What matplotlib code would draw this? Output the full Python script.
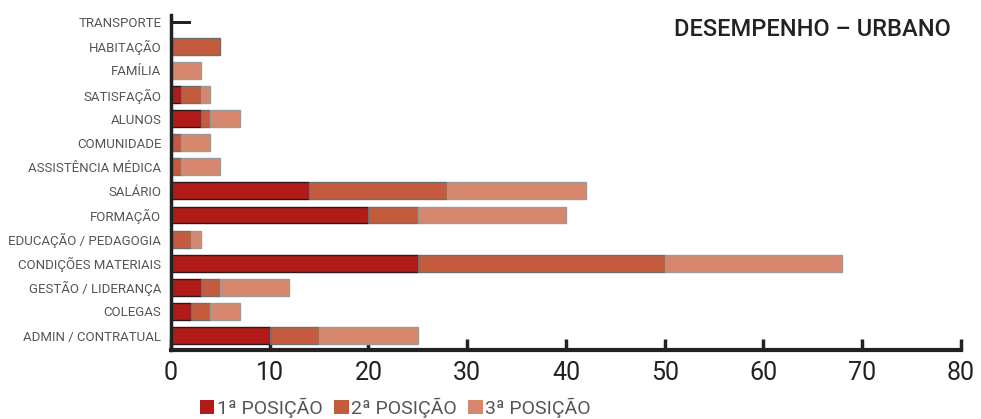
import matplotlib
matplotlib.use("Agg")
import matplotlib.pyplot as plt
from matplotlib.patches import Patch
import numpy as np

# categorias de baixo para cima
categorias = ["ADMIN / CONTRATUAL", "COLEGAS", "GESTÃO / LIDERANÇA",
              "CONDIÇÕES MATERIAIS", "EDUCAÇÃO / PEDAGOGIA", "FORMAÇÃO",
              "SALÁRIO", "ASSISTÊNCIA MÉDICA", "COMUNIDADE", "ALUNOS",
              "SATISFAÇÃO", "FAMÍLIA", "HABITAÇÃO", "TRANSPORTE"]
pos1 = [10, 2, 3, 25, 0, 20, 14, 0, 0, 3, 1, 0, 0, 0]
pos2 = [5, 2, 2, 25, 2, 5, 14, 1, 1, 1, 2, 0, 5, 0]
pos3 = [10, 3, 7, 18, 1, 15, 14, 4, 3, 3, 1, 3, 0, 0]
transporte = 2  # desenhado só como linha preta
series = ["1ª POSIÇÃO", "2ª POSIÇÃO", "3ª POSIÇÃO"]
xticks = [0, 10, 20, 30, 40, 50, 60, 70, 80]

cores = ["#B21C18", "#C45B3D", "#D6876D"]
bordas = ["#2a1a1a", "#6e6e6e", "#9a9a9a"]

plt.rcParams["font.family"] = ["Roboto", "DejaVu Sans"]

fig = plt.figure(figsize=(9.81, 4.19), dpi=100)
ax = fig.add_axes([0.1743, 0.1647, 0.8053, 0.7995])

y = np.arange(len(categorias))
h = 0.7
esq = np.zeros(len(categorias))
for vals, c, b in zip([pos1, pos2, pos3], cores, bordas):
    v = np.array(vals, dtype=float)
    m = v > 0
    ax.barh(y[m], v[m], left=esq[m], height=h, color=c, edgecolor=b,
            linewidth=1.0, zorder=2)
    esq += v

# transporte: linha fina
ax.barh(y[-1], transporte, height=0.12, color="#222222", zorder=2)

ax.set_xlim(0, 80)
ax.set_ylim(-0.6, 13.3)
ax.set_yticks(y)
ax.set_yticklabels(categorias, fontsize=9.5, color="#555555")
ax.tick_params(axis="y", length=0, pad=7)
ax.set_xticks(xticks)
ax.tick_params(axis="x", direction="in", length=8, width=2.5, color="#222222",
               labelsize=18, labelcolor="#222222", pad=8)

for s in ["top", "right"]:
    ax.spines[s].set_visible(False)
ax.spines["left"].set_linewidth(2.5)
ax.spines["bottom"].set_linewidth(3)
ax.spines["left"].set_color("#222222")
ax.spines["bottom"].set_color("#222222")

fig.text(0.969, 0.93, "DESEMPENHO – URBANO", ha="right", va="center",
         fontsize=17, fontweight="medium", color="#222222")

handles = [Patch(facecolor=c, edgecolor="none") for c in cores]
fig.legend(handles, series, loc="center", bbox_to_anchor=(0.403, 0.027),
           ncol=3, frameon=False, handlelength=0.75, handleheight=0.75,
           handletextpad=0.12, columnspacing=0.6, borderaxespad=0,
           prop={"size": 14}, labelcolor="#555555")

fig.savefig("out.png", dpi=100)
